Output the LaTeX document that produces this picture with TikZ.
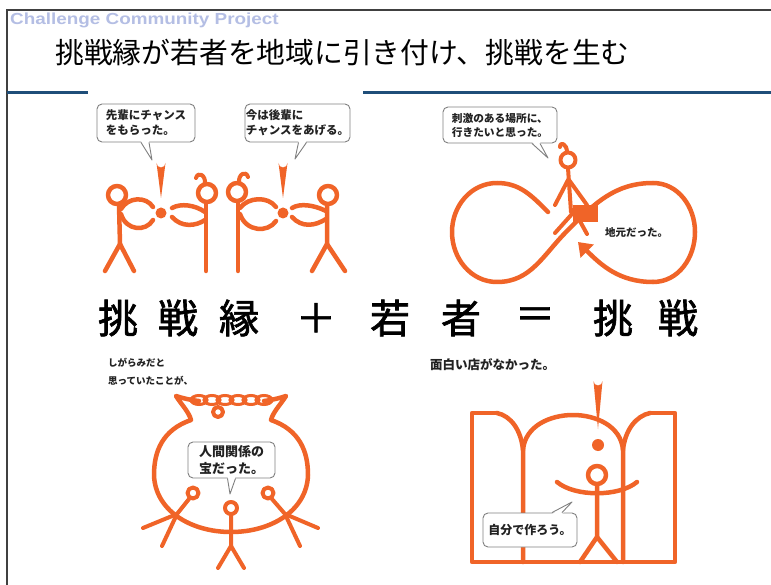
\documentclass[tikz,border=0pt]{standalone}
\usepackage{fontspec}
\setmainfont{Liberation Sans}
\newfontfamily\jp{Noto Sans CJK JP}
\newfontfamily\jpmid[FakeBold=1.6]{Noto Sans CJK JP}
\usetikzlibrary{arrows.meta}

\definecolor{orng}{RGB}{240,100,40}
\definecolor{navy}{RGB}{31,78,121}
\definecolor{brandblue}{RGB}{180,190,228}
\definecolor{bubblegray}{RGB}{128,128,128}
\definecolor{ink}{RGB}{34,34,34}

\tikzset{
  stick/.style={draw=orng, line width=4.5pt, line cap=round, line join=round},
  thinstick/.style={stick, line width=4pt},
  bubble/.style={draw=bubblegray, line width=0.9pt, fill=white, rounded corners=5pt,
    align=left, text=ink, inner sep=0pt, font=\jp\bfseries\fontsize{11.5}{15}\selectfont},
  tailline/.style={draw=bubblegray, line width=0.9pt, line join=round},
  kanji/.style={font=\jpmid\fontsize{40}{40}\selectfont, inner sep=0pt},
  note/.style={text=ink, inner sep=0pt, align=left}
}

\begin{document}
\begin{tikzpicture}[x=1pt,y=-1pt]
  \useasboundingbox (0,0) rectangle (771,585);
  \fill[white] (0,0) rectangle (771,585);

  % slide frame and header
  \draw[black!75, line width=1.3pt] (771,10) -- (7,10) -- (7,585);
  \node[anchor=west, text=brandblue, inner sep=0pt,
        font=\bfseries\fontsize{16}{17}\selectfont] (brand) at (10,20)
    {\scalebox{1.18}[1]{Challenge Community Project}};
  \node[anchor=west, inner sep=0pt, font=\jp\fontsize{28.8}{30}\selectfont] (title) at (55,53)
    {挑戦縁が若者を地域に引き付け、挑戦を生む};
  \draw[navy, line width=3pt] (7,93) -- (88,93);
  \draw[navy, line width=3pt] (363,93) -- (771,93);

  % the equation across the middle
  \foreach \c/\x [count=\i] in {挑/118,戦/178,縁/239,＋/316,若/390,者/461,＝/535,挑/613,戦/678}
    \node[kanji] (k\i) at (\x,318) {\c};

  % --- two pairs handing on the chance ---
  % left pair
  \draw[stick] (117,195) circle (9);
  \draw[stick] (119,205) -- (120,244) -- (105,271);
  \draw[stick] (120,244) -- (134,271);
  \draw[stick] (121,209) .. controls (128,197) and (146,196) .. (153,207);
  \draw[stick] (121,214) .. controls (126,231) and (146,232) .. (153,220);
  \fill[orng] (161,198) -- (156.5,163) arc[start angle=180,end angle=0,radius=4.5] -- cycle;
  \fill[orng] (161,213) circle (5.5);
  \draw[stick] (207,193) circle (9);
  \draw[thinstick] (205,184) .. controls (206,175) and (198,171) .. (196,178);
  \draw[stick] (206,203) -- (206,271);
  \draw[stick] (172,208) .. controls (181,203) and (195,205) .. (205,212);
  \draw[stick] (172,217) .. controls (182,228) and (196,226) .. (205,220);
  % right pair
  \draw[stick] (237,192) circle (9);
  \draw[thinstick] (239,183) .. controls (238,174) and (246,170) .. (248,177);
  \draw[stick] (238,202) -- (238,271);
  \draw[stick] (240,208) .. controls (248,197) and (268,196) .. (276,207);
  \draw[stick] (240,214) .. controls (246,232) and (268,233) .. (276,221);
  \fill[orng] (283,198) -- (278.5,163) arc[start angle=180,end angle=0,radius=4.5] -- cycle;
  \fill[orng] (283,213) circle (5.5);
  \draw[stick] (328,195) circle (9);
  \draw[stick] (327,205) -- (327,244) -- (312,271);
  \draw[stick] (327,244) -- (345,271);
  \draw[stick] (292,208) .. controls (300,203) and (314,205) .. (326,211);
  \draw[stick] (292,217) .. controls (302,228) and (315,226) .. (326,219);

  \node[bubble, minimum width=98pt, minimum height=38pt] (senpai) at (146,123)
    {先輩にチャンス\\をもらった。};
  \coordinate (senpaitip) at (152,160);
  \fill[white] ([xshift=-5pt,yshift=1.5pt]senpai.south) -- (senpaitip) -- ([xshift=3pt,yshift=1.5pt]senpai.south) -- cycle;
  \draw[tailline] ([xshift=-5pt]senpai.south) -- (senpaitip) -- ([xshift=3pt]senpai.south);

  \node[bubble, minimum width=105pt, minimum height=38pt] (kouhai) at (297.5,123)
    {今は後輩に\\チャンスをあげる。};
  \coordinate (kouhaitip) at (295,159);
  \fill[white] ([xshift=1pt,yshift=1.5pt]kouhai.south) -- (kouhaitip) -- ([xshift=9pt,yshift=1.5pt]kouhai.south) -- cycle;
  \draw[tailline] ([xshift=1pt]kouhai.south) -- (kouhaitip) -- ([xshift=9pt]kouhai.south);

  % --- leaving for somewhere exciting, ending up back home ---
  \draw[stick] (548,212) to[out=135,in=0] (497,183) to[out=180,in=90] (452,232)
    to[out=-90,in=180] (497,282) to[out=0,in=-135] (567,231) to[out=45,in=180] (653,183)
    to[out=0,in=90] (695,232) to[out=-90,in=0] (653,282);
  \draw[stick, -{Triangle[length=13pt,width=18pt]}] (653,282) to[out=180,in=-45] (578,242);
  \draw[thinstick] (568,160) circle (7.5);
  \draw[thinstick] (567,152) .. controls (567,144) and (560,141) .. (560,147);
  \draw[thinstick] (568,168) -- (571,212);
  \draw[thinstick] (568,180) -- (555,205);
  \draw[thinstick] (569,180) -- (587,205);
  \draw[thinstick] (572,214) -- (555,233);
  \draw[thinstick] (576,214) -- (587,234);
  \fill[orng] (573,205) rectangle (598,222);

  \node[bubble, font=\jp\bfseries\fontsize{10.7}{14}\selectfont, minimum width=114pt, minimum height=36pt]
    (shigeki) at (500,125) {刺激のある場所に、\\行きたいと思った。};
  \coordinate (shigekitip) at (548,158);
  \fill[white] ([xshift=32pt,yshift=1.5pt]shigeki.south) -- (shigekitip) -- ([xshift=40pt,yshift=1.5pt]shigeki.south) -- cycle;
  \draw[tailline] ([xshift=32pt]shigeki.south) -- (shigekitip) -- ([xshift=40pt]shigeki.south);
  \node[note, anchor=west, font=\jp\bfseries\fontsize{10.5}{12}\selectfont] (jimoto) at (605,232) {地元だった。};

  % --- the bag of ties ---
  \node[note, anchor=north west, font=\jp\bfseries\fontsize{9.5}{18}\selectfont] (shigarami) at (108,358)
    {しがらみだと\\思っていたことが、};
  \draw[stick] (199,401) .. controls (190,400) and (182,398) .. (176,396)
    .. controls (181,404) and (189,412) .. (191,420)
    .. controls (162,430) and (154,452) .. (154,475)
    .. controls (155,510) and (190,532) .. (231,532)
    .. controls (272,532) and (307,510) .. (308,475)
    .. controls (308,452) and (300,430) .. (271,420)
    .. controls (273,412) and (281,404) .. (286,396)
    .. controls (280,398) and (272,400) .. (264,401);
  \foreach \i in {0,...,5}
    \draw[orng, line width=3pt] (199+13*\i,400) ellipse[x radius=8, y radius=4.5];
  \draw[thinstick] (218,412) circle (5);
  \draw[thinstick] (193,493) circle (5.5);
  \draw[thinstick] (189,499) -- (177,514) -- (143,528);
  \draw[thinstick] (177,514) -- (162,546);
  \draw[thinstick] (268,493) circle (5.5);
  \draw[thinstick] (272,499) -- (285,514) -- (318,528);
  \draw[thinstick] (285,514) -- (300,546);
  \draw[thinstick] (231,508) circle (6);
  \draw[thinstick] (231,515) -- (231,546) -- (218,568);
  \draw[thinstick] (231,546) -- (244,568);

  \node[bubble, font=\jp\bfseries\fontsize{13}{17}\selectfont, minimum width=87pt, minimum height=36pt]
    (takara) at (231.5,460) {人間関係の\\宝だった。};
  \coordinate (takaratip) at (230,494);
  \fill[white] ([xshift=-4pt,yshift=1.5pt]takara.south) -- (takaratip) -- ([xshift=4pt,yshift=1.5pt]takara.south) -- cycle;
  \draw[tailline] ([xshift=-4pt]takara.south) -- (takaratip) -- ([xshift=4pt]takara.south);

  % --- no shop worth visiting, so build one ---
  \node[note, anchor=west, font=\jp\bfseries\fontsize{12.5}{14}\selectfont] (omoshiroi) at (430,365) {面白い店がなかった。};
  \draw[stick, line cap=butt] (497,413) -- (472,413) -- (472,562) -- (675,562) -- (675,413) -- (650,413);
  \draw[stick] (497,413) .. controls (511,416) and (521,430) .. (523,450) -- (523,562);
  \draw[stick] (523,450) .. controls (525,426) and (550,415) .. (573,415)
    .. controls (596,415) and (621,426) .. (623,450) -- (623,562);
  \draw[stick] (623,450) .. controls (625,430) and (636,416) .. (650,413);
  \fill[orng] (598,429) -- (593.5,381) arc[start angle=180,end angle=0,radius=4.5] -- cycle;
  \fill[orng] (598,445) circle (6);
  \draw[stick] (597,475) circle (9);
  \draw[stick] (557,482) .. controls (575,497) and (619,497) .. (637,482);
  \draw[stick] (597,485) -- (597,537) -- (580,562);
  \draw[stick] (597,537) -- (617,562);

  \node[bubble, font=\jp\bfseries\fontsize{12}{14}\selectfont, minimum width=94pt, minimum height=34pt]
    (tsukurou) at (530,530) {自分で作ろう。};
  \coordinate (tsukuroutip) at (572,502);
  \fill[white] ([xshift=22pt,yshift=-1.5pt]tsukurou.north) -- (tsukuroutip) -- ([xshift=32pt,yshift=-1.5pt]tsukurou.north) -- cycle;
  \draw[tailline] ([xshift=22pt]tsukurou.north) -- (tsukuroutip) -- ([xshift=32pt]tsukurou.north);
\end{tikzpicture}
\end{document}
